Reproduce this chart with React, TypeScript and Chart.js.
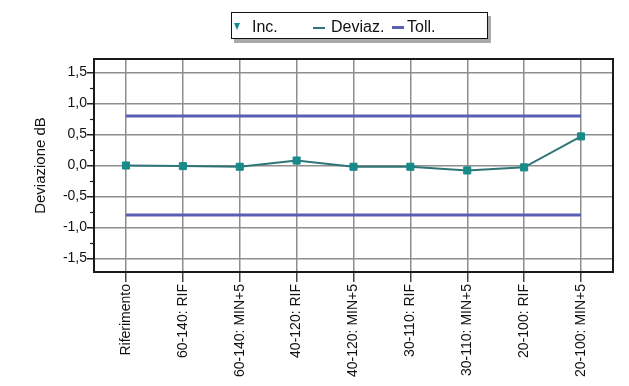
import React, { useEffect, useRef } from "react";
import { Chart, registerables } from "chart.js";

Chart.register(...registerables);

const categories = [
  "Riferimento",
  "60-140: RIF",
  "60-140: MIN+5",
  "40-120: RIF",
  "40-120: MIN+5",
  "30-110: RIF",
  "30-110: MIN+5",
  "20-100: RIF",
  "20-100: MIN+5",
];
const incValues = [0, -0.01, -0.02, 0.08, -0.02, -0.02, -0.08, -0.03, 0.47];
const tolUpper = [0.8, 0.8, 0.8, 0.8, 0.8, 0.8, 0.8, 0.8, 0.8];
const tolLower = [-0.8, -0.8, -0.8, -0.8, -0.8, -0.8, -0.8, -0.8, -0.8];
const yTickValues = [-1.5, -1, -0.5, 0, 0.5, 1, 1.5];
const yMinorValues = [-1.25, -0.75, -0.25, 0.25, 0.75, 1.25];

const TEAL = "#178a8a";
const DEV = "#2f7576";
const TOL = "#5a5fb4";
const GRID = "#8e8e8e";
const FONT = "'Liberation Sans', Arial, sans-serif";

const framePlugin = {
  id: "frame",
  afterDraw(chart: any) {
    const { ctx, chartArea } = chart;
    const y = chart.scales.y;
    ctx.save();
    ctx.strokeStyle = "#1a1a1a";
    ctx.lineWidth = 2;
    ctx.strokeRect(chartArea.left, chartArea.top, chartArea.right - chartArea.left, chartArea.bottom - chartArea.top);
    ctx.lineWidth = 1.2;
    yMinorValues.forEach((v) => {
      const py = Math.round(y.getPixelForValue(v)) + 0.5;
      ctx.beginPath();
      ctx.moveTo(chartArea.left - 4, py);
      ctx.lineTo(chartArea.left, py);
      ctx.stroke();
    });
    ctx.restore();
  },
};

function App() {
  const ref = useRef<HTMLCanvasElement>(null);
  useEffect(() => {
    if (!ref.current) return;
    const pts = (arr: number[]) => arr.map((v, i) => ({ x: i, y: v }));
    const chart = new Chart(ref.current, {
      type: "line",
      data: {
        datasets: [
          {
            label: "Toll.",
            data: pts(tolUpper),
            borderColor: TOL,
            borderWidth: 3,
            pointRadius: 0,
            order: 3,
          },
          {
            label: "Toll.",
            data: pts(tolLower),
            borderColor: TOL,
            borderWidth: 3,
            pointRadius: 0,
            order: 3,
          },
          {
            label: "Deviaz.",
            data: pts(incValues),
            borderColor: DEV,
            borderWidth: 2,
            pointRadius: 0,
            order: 2,
          },
          {
            label: "Inc.",
            data: pts(incValues),
            showLine: false,
            pointStyle: "rect",
            pointRadius: 5,
            pointBackgroundColor: TEAL,
            pointBorderColor: TEAL,
            order: 1,
          },
        ],
      },
      options: {
        animation: false,
        responsive: false,
        maintainAspectRatio: false,
        layout: { padding: { top: 59, right: 16, bottom: 0, left: 0 } },
        plugins: { legend: { display: false }, tooltip: { enabled: false } },
        scales: {
          x: {
            type: "linear",
            min: -0.5625,
            max: 8.5625,
            afterBuildTicks: (s: any) => {
              s.ticks = categories.map((_, i) => ({ value: i }));
            },
            afterFit: (s: any) => {
              s.height = 114;
            },
            ticks: {
              autoSkip: false,
              maxRotation: 90,
              minRotation: 90,
              padding: 2,
              color: "#111",
              font: { family: FONT, size: 14 },
              callback: (v: any) => categories[v] ?? "",
            },
            grid: { color: GRID, lineWidth: 1.5, tickLength: 10, tickColor: "#444" },
            border: { display: false },
          },
          y: {
            type: "linear",
            min: -1.72,
            max: 1.72,
            afterBuildTicks: (s: any) => {
              s.ticks = yTickValues.map((v) => ({ value: v }));
            },
            afterFit: (s: any) => {
              s.width = 94;
            },
            ticks: {
              padding: 0,
              color: "#111",
              font: { family: FONT, size: 14 },
              callback: (v: any) => Number(v).toFixed(1).replace(".", ","),
            },
            grid: { color: GRID, lineWidth: 1.5, tickLength: 7, tickColor: "#222" },
            border: { display: false },
            title: {
              display: true,
              text: "Deviazione dB",
              color: "#111",
              font: { family: FONT, size: 15 },
              padding: { top: 32, bottom: 0 },
            },
          },
        },
      },
      plugins: [framePlugin],
    } as any);
    return () => chart.destroy();
  }, []);

  const legendText: React.CSSProperties = {
    position: "absolute",
    top: 17,
    fontSize: 16,
    lineHeight: "19px",
    color: "#111",
  };

  return (
    <div
      style={{
        position: "fixed",
        left: 0,
        top: 0,
        width: 629,
        height: 386,
        background: "#fff",
        fontFamily: FONT,
      }}
    >
      <canvas ref={ref} width={629} height={386} style={{ position: "absolute", left: 0, top: 0 }} />
      <div
        style={{
          position: "absolute",
          left: 231,
          top: 12,
          width: 255,
          height: 25,
          border: "1.5px solid #111",
          boxShadow: "3px 4px 0 #aaa",
          background: "#fff",
        }}
      />
      <div
        style={{
          position: "absolute",
          left: 234,
          top: 23,
          width: 0,
          height: 0,
          borderLeft: "3px solid transparent",
          borderRight: "3px solid transparent",
          borderTop: "7px solid " + TEAL,
        }}
      />
      <div style={{ ...legendText, left: 252 }}>Inc.</div>
      <div style={{ position: "absolute", left: 313, top: 27, width: 12, height: 2, background: DEV }} />
      <div style={{ ...legendText, left: 331 }}>Deviaz.</div>
      <div style={{ position: "absolute", left: 392, top: 26, width: 12, height: 2.5, background: TOL }} />
      <div style={{ ...legendText, left: 407 }}>Toll.</div>
    </div>
  );
}

export default App;
